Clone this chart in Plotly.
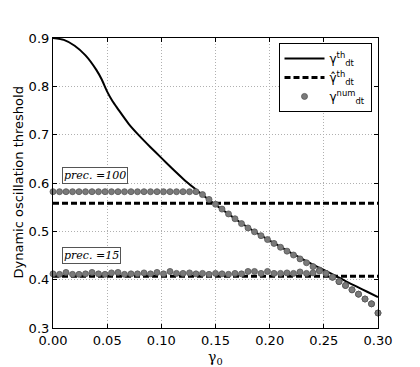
import plotly.graph_objects as go

# theoretical threshold curve
gamma_th = [0.00, 0.01, 0.02, 0.03, 0.04, 0.045, 0.05, 0.055, 0.06, 0.07, 0.08, 0.09,
            0.10, 0.11, 0.12, 0.13, 0.14, 0.15, 0.16, 0.17, 0.18, 0.19, 0.20, 0.21,
            0.22, 0.23, 0.24, 0.25, 0.26, 0.27, 0.28, 0.29, 0.30]
thr_th = [0.900, 0.896, 0.884, 0.864, 0.834, 0.814, 0.789, 0.769, 0.753, 0.722, 0.697, 0.674,
          0.652, 0.630, 0.609, 0.590, 0.572, 0.555, 0.539, 0.523, 0.508, 0.494, 0.481, 0.468,
          0.455, 0.443, 0.431, 0.420, 0.409, 0.397, 0.386, 0.375, 0.364]

# approximated thresholds (hat) for the two precisions
hat_prec100 = 0.558
hat_prec15 = 0.407

# numerical thresholds, 51 points from 0 to 0.3
gamma_num = [i * 0.006 for i in range(51)]
tail = [0.576, 0.566, 0.556, 0.546, 0.536, 0.526, 0.516, 0.507, 0.499, 0.491,
        0.483, 0.475, 0.467, 0.459, 0.451, 0.443, 0.435, 0.427, 0.420, 0.413,
        0.405, 0.396, 0.388, 0.379, 0.370, 0.360, 0.350, 0.331]
num_prec100 = [0.582] * 23 + tail
num_prec15 = [0.412, 0.411, 0.415, 0.411, 0.411, 0.412, 0.415, 0.412, 0.411, 0.414,
              0.415, 0.411, 0.412, 0.412, 0.414, 0.412, 0.415, 0.412, 0.417, 0.413,
              0.413, 0.414, 0.412, 0.413, 0.411, 0.413, 0.412, 0.411, 0.413, 0.412,
              0.417, 0.417, 0.413, 0.417, 0.413, 0.413, 0.414, 0.413, 0.416, 0.413,
              0.414, 0.418] + tail[-9:]

dot = dict(color="#7a7a7a", size=6, line=dict(color="#555555", width=0.8))
dashed = dict(color="black", width=3, dash="6px,3px")

fig = go.Figure()
fig.add_trace(go.Scatter(x=gamma_th, y=thr_th, mode="lines",
                         line=dict(color="black", width=2, shape="spline", smoothing=0.5),
                         name="γ<sup>th</sup><sub>dt</sub>"))
fig.add_trace(go.Scatter(x=[0, 0.3], y=[hat_prec100] * 2, mode="lines", line=dashed,
                         name="γ̂<sup>th</sup><sub>dt</sub>"))
fig.add_trace(go.Scatter(x=[0, 0.3], y=[hat_prec15] * 2, mode="lines", line=dashed,
                         showlegend=False))
fig.add_trace(go.Scatter(x=gamma_num, y=num_prec100, mode="markers", marker=dot,
                         name="γ<sup>num</sup><sub>dt</sub>", cliponaxis=False))
fig.add_trace(go.Scatter(x=gamma_num, y=num_prec15, mode="markers", marker=dot,
                         showlegend=False, cliponaxis=False))

for yv, txt in [(0.616, "prec. =100"), (0.451, "prec. =15")]:
    fig.add_annotation(x=0.008, y=yv, xanchor="left", yanchor="middle", showarrow=False,
                       text="<i>" + txt + "</i>",
                       font=dict(family="DejaVu Serif", size=11, color="black"),
                       bordercolor="#555555", borderwidth=1, borderpad=1, bgcolor="white")

# axis titles as paper annotations so the margins stay fixed
fig.add_annotation(xref="paper", yref="paper", x=0.5, y=-0.065, xanchor="center", yanchor="top",
                   showarrow=False, text="γ<sub>0</sub>",
                   font=dict(family="DejaVu Serif", size=14, color="black"))
fig.add_annotation(xref="paper", yref="paper", x=-0.08, y=0.5, xanchor="right", yanchor="middle",
                   showarrow=False, textangle=-90, text="Dynamic oscillation threshold",
                   font=dict(family="DejaVu Sans", size=13, color="black"))

axis = dict(showline=True, linecolor="black", linewidth=1.2, mirror="ticks",
            ticks="inside", ticklen=4, tickcolor="black", automargin=False,
            showgrid=True, gridcolor="#b0b0b0", griddash="1px,2px", gridwidth=1,
            zeroline=False, tickfont=dict(family="DejaVu Sans", size=13, color="black"))

# the page body adds an 8px offset, so the figure is 8px smaller each way
fig.update_layout(
    width=412, height=359,
    margin=dict(l=45, r=42, t=30, b=39),
    plot_bgcolor="white", paper_bgcolor="white",
    xaxis=dict(axis, range=[0, 0.3], dtick=0.05, tickformat=".2f"),
    yaxis=dict(axis, range=[0.3, 0.9], dtick=0.1, tickformat=".1f"),
    legend=dict(x=0.98, y=0.983, xanchor="right", yanchor="top",
                bordercolor="black", borderwidth=1, bgcolor="white", itemwidth=40,
                tracegroupgap=6,
                font=dict(family="DejaVu Sans", size=12, color="black")),
)

fig.write_html("out.html")
